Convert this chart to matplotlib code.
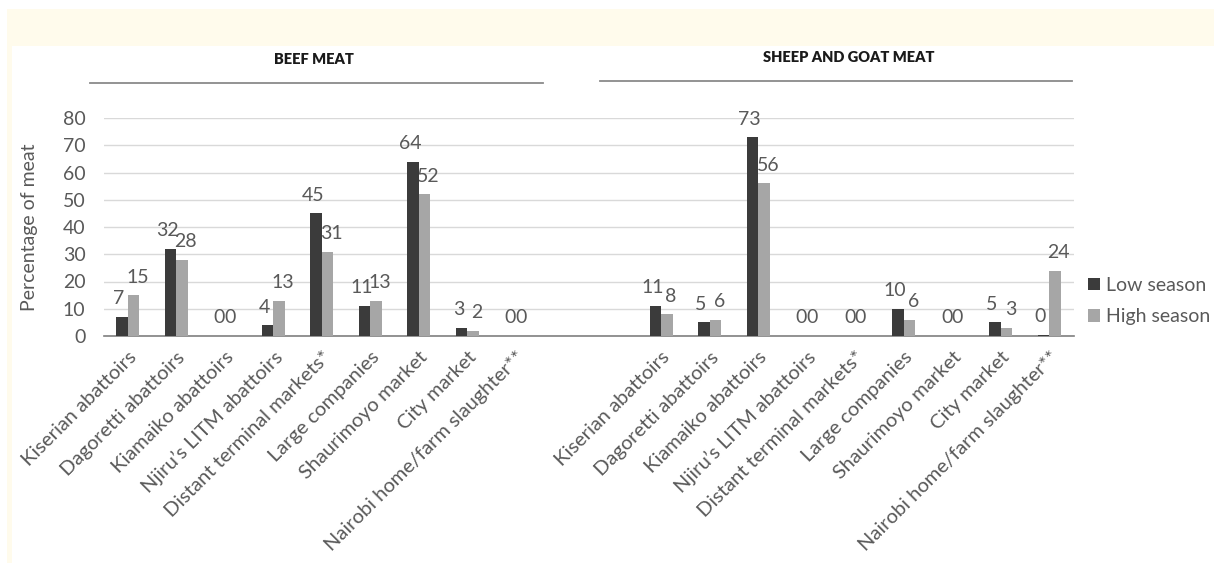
"""Beef vs sheep/goat meat outlets, low vs high season -> out.png."""

import numpy as np
import matplotlib

matplotlib.use("Agg")
import matplotlib.pyplot as plt  # noqa: E402
from matplotlib.lines import Line2D  # noqa: E402
from matplotlib.patches import Rectangle  # noqa: E402

outlets = [
    "Kiserian abattoirs",
    "Dagoretti abattoirs",
    "Kiamaiko abattoirs",
    "Njiru’s LITM abattoirs",
    "Distant terminal markets*",
    "Large companies",
    "Shaurimoyo market",
    "City market",
    "Nairobi home/farm slaughter**",
]
beef_low = [7, 32, 0, 4, 45, 11, 64, 3, 0]
beef_high = [15, 28, 0, 13, 31, 13, 52, 2, 0]
sheep_low = [11, 5, 73, 0, 0, 10, 0, 5, 0.4]
sheep_high = [8, 6, 56, 0, 0, 6, 0, 3, 24]
series_names = ["Low season", "High season"]
panel_titles = ["BEEF MEAT", "SHEEP AND GOAT MEAT"]

FONT = ["Lato", "DejaVu Sans"]
GREY_TXT = "#595959"
DARK = "#3b3b3b"
LIGHT = "#a6a6a6"
FS = 14

plt.rcParams["font.family"] = FONT

W, H = 1214, 563
fig = plt.figure(figsize=(W / 100, H / 100), dpi=100)

# pale yellow header band and left strip
fig.add_artist(Rectangle((7 / W, 1 - 46 / H), 1, 37 / H, transform=fig.transFigure,
                         facecolor="#fffbec", edgecolor="none", zorder=0))
fig.add_artist(Rectangle((7 / W, 0), 5 / W, 1 - 46 / H, transform=fig.transFigure,
                         facecolor="#fffbec", edgecolor="none", zorder=0))

ax = fig.add_axes([103.5 / W, 1 - 336 / H, 970 / W, 218 / H])

gap = 2
x_beef = np.arange(len(outlets))
x_sheep = x_beef + len(outlets) + gap
xs = np.concatenate([x_beef, x_sheep])
low = beef_low + sheep_low
high = beef_high + sheep_high

bw = 0.237
b1 = ax.bar(xs - bw / 2, low, bw, color=DARK, zorder=3, label=series_names[0])
b2 = ax.bar(xs + bw / 2, high, bw, color=LIGHT, zorder=3, label=series_names[1])

# value labels; zero pairs sit right on their bars so they read "00" like the original
for x, v in zip(xs, low):
    dx = -2.2 if v else 0.4
    ax.annotate(f"{v:.0f}", (x - bw / 2, v), xytext=(dx, 13), textcoords="offset points",
                ha="center", va="center", fontsize=FS, color=GREY_TXT, zorder=2)
for x, v in zip(xs, high):
    dx = 2.8 if v else -0.4
    ax.annotate(f"{v:.0f}", (x + bw / 2, v), xytext=(dx, 13), textcoords="offset points",
                ha="center", va="center", fontsize=FS, color=GREY_TXT, zorder=2)

ax.set_xlim(-0.5, xs[-1] + 0.5)
ax.set_ylim(0, 80)
ax.set_yticks(range(0, 81, 10))
ax.set_xticks(xs)
ax.set_xticklabels(outlets * 2, rotation=45, ha="right", rotation_mode="anchor")
ax.tick_params(axis="both", length=0, labelsize=FS, labelcolor=GREY_TXT)
ax.tick_params(axis="x", labelsize=14.5, pad=9)
ax.tick_params(axis="y", pad=13)
ax.grid(axis="y", color="#d9d9d9", linewidth=1)
ax.set_axisbelow(True)
for side in ["top", "right", "left"]:
    ax.spines[side].set_visible(False)
ax.spines["bottom"].set_color("#7f7f7f")
ax.spines["bottom"].set_linewidth(1.2)

fig.text(30 / W, 1 - 227 / H, "Percentage of meat", rotation=90, ha="center", va="center",
         fontsize=FS, color=GREY_TXT)

# panel headings with rules underneath
for title, tx, (x0, x1), ty, ly in zip(panel_titles, [314, 849], [(90, 543), (600, 1072)],
                                       [59, 57], [83, 81]):
    fig.text(tx / W, 1 - ty / H, title, ha="center", va="center",
             fontsize=10.5, fontweight="heavy", color="#1a1a1a")
    fig.add_artist(Line2D([x0 / W, x1 / W], [1 - ly / H, 1 - ly / H], transform=fig.transFigure,
                          color="#8a8a8a", linewidth=1.3))

fig.legend(handles=[b1, b2], labels=series_names, loc="center left",
           bbox_to_anchor=(1088 / W, 1 - 301 / H), bbox_transform=fig.transFigure,
           frameon=False, fontsize=FS, labelcolor=GREY_TXT, handlelength=0.6,
           handleheight=0.6, handletextpad=0.35, labelspacing=0.75, borderpad=0,
           borderaxespad=0)

fig.savefig("out.png", dpi=100, facecolor="white")
